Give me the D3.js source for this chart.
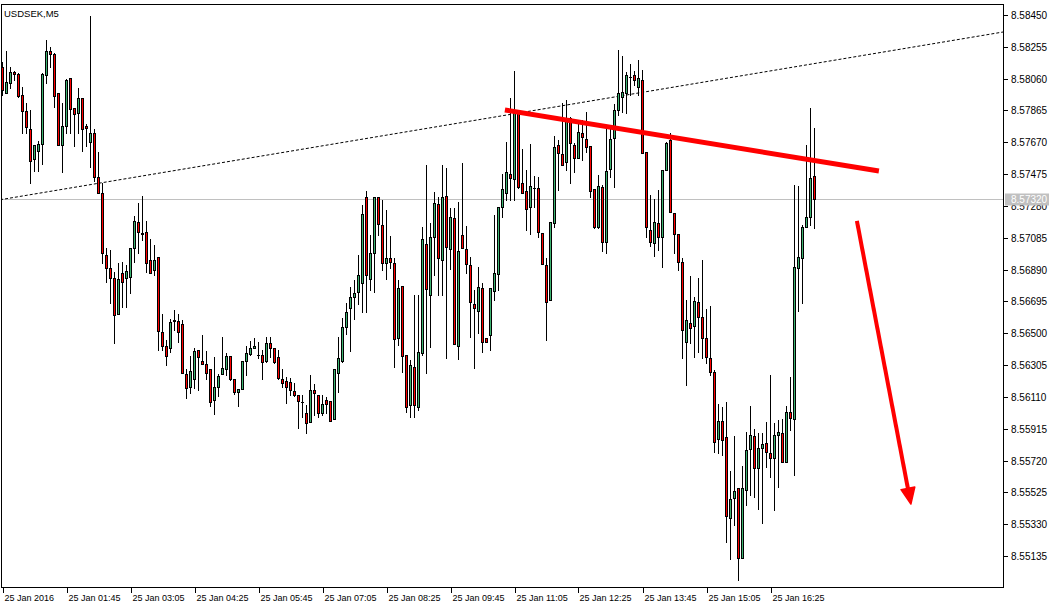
<!DOCTYPE html>
<html><head><meta charset="utf-8">
<script src="https://cdn.jsdelivr.net/npm/d3@7"></script>
<style>html,body{margin:0;padding:0;background:#fff;}svg{display:block;}</style>
</head><body>
<script>
const symbolTitle = "USDSEK,M5";
const openP = [8.58131,8.57972,8.58033,8.58101,8.58088,8.57960,8.57862,8.57751,8.57567,8.57616,
8.57659,8.58082,8.58229,8.58211,8.57972,8.57653,8.57770,8.58064,8.57880,8.57849,
8.57941,8.57770,8.57672,8.57727,8.57457,8.57359,8.56979,8.56899,8.56838,8.56617,
8.56869,8.56838,8.56844,8.57022,8.57181,8.57114,8.57120,8.56948,8.56887,8.56967,
8.56507,8.56421,8.56409,8.56580,8.56574,8.56556,8.56249,8.56170,8.56219,8.56396,
8.56329,8.56311,8.56280,8.56090,8.56170,8.56249,8.56280,8.56360,8.56219,8.56139,
8.56157,8.56329,8.56372,8.56409,8.56366,8.56366,8.56329,8.56439,8.56409,8.56354,
8.56219,8.56206,8.56200,8.56145,8.56121,8.56078,8.56010,8.55955,8.56151,8.56121,
8.56010,8.56090,8.56084,8.55974,8.56256,8.56329,8.56537,8.56654,8.56721,8.56752,
8.56807,8.57334,8.56832,8.56991,8.57334,8.57163,8.56930,8.56960,8.56930,8.56470,
8.56789,8.56366,8.56059,8.56292,8.56047,8.56378,8.57046,8.56734,8.57089,8.57292,
8.56948,8.57341,8.57016,8.57206,8.56421,8.57101,8.57016,8.56918,8.56678,8.56636,
8.56777,8.56470,8.56488,8.56758,8.56862,8.57273,8.57359,8.57475,8.57445,8.57855,
8.57420,8.57371,8.57273,8.57390,8.57390,8.57114,8.56918,8.56703,8.57175,8.57653,
8.57598,8.57549,8.57819,8.57653,8.57573,8.57727,8.57690,8.57647,8.57383,8.57150,
8.57396,8.57059,8.57506,8.57696,8.57868,8.57947,8.57972,8.58070,8.58082,8.58009,
8.58052,8.57610,8.57132,8.57052,8.57175,8.57089,8.57500,8.57684,8.57236,8.57108,
8.56936,8.56446,8.56562,8.56544,8.56691,8.56599,8.56470,8.56347,8.56262,8.55851,
8.55961,8.55863,8.55367,8.55489,8.55551,8.55121,8.55538,8.55790,8.55869,8.55673,
8.55796,8.55826,8.55765,8.55734,8.55875,8.55888,8.55710,8.56016,8.55974,8.56899,
8.56960,8.57150,8.57212,8.57463];
const highP = [8.58162,8.58229,8.58131,8.58107,8.58095,8.58009,8.57911,8.57868,8.57653,8.57678,
8.58095,8.58297,8.58254,8.58217,8.57972,8.57911,8.58058,8.58064,8.57880,8.58003,
8.57941,8.57782,8.58444,8.57751,8.57610,8.57420,8.57022,8.57009,8.56875,8.56930,
8.56936,8.56918,8.57022,8.57218,8.57298,8.57341,8.57187,8.57077,8.57040,8.56967,
8.56617,8.56458,8.56587,8.56642,8.56617,8.56580,8.56280,8.56360,8.56409,8.56396,
8.56488,8.56390,8.56280,8.56354,8.56249,8.56476,8.56378,8.56360,8.56219,8.56157,
8.56329,8.56421,8.56452,8.56470,8.56446,8.56396,8.56476,8.56476,8.56409,8.56396,
8.56280,8.56231,8.56225,8.56194,8.56121,8.56121,8.56059,8.56243,8.56188,8.56121,
8.56121,8.56108,8.56084,8.56280,8.56476,8.56593,8.56685,8.56783,8.56826,8.56979,
8.57285,8.57371,8.57101,8.57334,8.57334,8.57316,8.57255,8.57095,8.56960,8.56826,
8.56789,8.56366,8.56335,8.56734,8.56734,8.57150,8.57531,8.57175,8.57365,8.57334,
8.57531,8.57512,8.57267,8.57267,8.57304,8.57543,8.57157,8.56967,8.56764,8.56905,
8.56807,8.56470,8.56777,8.57224,8.57273,8.57475,8.57672,8.57941,8.58107,8.57868,
8.57629,8.57500,8.57659,8.57463,8.57457,8.57114,8.56960,8.57181,8.57708,8.57684,
8.57911,8.57929,8.57825,8.57665,8.57794,8.57806,8.57855,8.57647,8.57383,8.57469,
8.57408,8.57757,8.57757,8.57904,8.58236,8.58199,8.58101,8.58150,8.58107,8.58174,
8.58113,8.57610,8.57347,8.57322,8.57377,8.57500,8.57672,8.57727,8.57236,8.57108,
8.56960,8.56703,8.56850,8.56721,8.56838,8.56948,8.56648,8.56666,8.56274,8.56065,
8.56047,8.56078,8.55655,8.55869,8.55551,8.55685,8.55894,8.56053,8.55912,8.55888,
8.55888,8.55955,8.56243,8.55949,8.55967,8.55974,8.56053,8.56231,8.57408,8.57402,
8.57163,8.57653,8.57880,8.57757];
const lowP = [8.57960,8.57972,8.58003,8.58052,8.57947,8.57727,8.57727,8.57420,8.57494,8.57494,
8.57537,8.58033,8.58131,8.57886,8.57653,8.57488,8.57727,8.57727,8.57647,8.57727,
8.57616,8.57647,8.57518,8.57432,8.57359,8.56930,8.56813,8.56685,8.56439,8.56617,
8.56660,8.56660,8.56746,8.56936,8.56991,8.57071,8.56875,8.56869,8.56856,8.56396,
8.56396,8.56305,8.56384,8.56519,8.56446,8.56256,8.56102,8.56133,8.56164,8.56151,
8.56311,8.56219,8.56053,8.56004,8.56115,8.56249,8.56243,8.56213,8.56127,8.56053,
8.56157,8.56243,8.56366,8.56409,8.56347,8.56219,8.56323,8.56354,8.56317,8.56219,
8.56170,8.56072,8.56121,8.56115,8.55918,8.55986,8.55888,8.55955,8.55998,8.55986,
8.55998,8.56010,8.55961,8.55974,8.56139,8.56323,8.56495,8.56390,8.56587,8.56678,
8.56629,8.56629,8.56764,8.56752,8.57101,8.56887,8.56832,8.56899,8.56292,8.56427,
8.56262,8.56016,8.55986,8.55986,8.56029,8.56366,8.56256,8.56415,8.56856,8.56734,
8.56734,8.56347,8.56893,8.56433,8.56341,8.57022,8.56869,8.56476,8.56286,8.56501,
8.56384,8.56446,8.56396,8.56703,8.56764,8.57212,8.57316,8.57316,8.57316,8.57390,
8.57359,8.57132,8.57108,8.57273,8.57089,8.56924,8.56458,8.56703,8.57150,8.57377,
8.57531,8.57500,8.57420,8.57488,8.57573,8.57561,8.57610,8.57334,8.57144,8.57144,
8.57003,8.56991,8.57457,8.57396,8.57837,8.57855,8.57849,8.57960,8.58021,8.57960,
8.57604,8.57089,8.57034,8.56973,8.57009,8.56905,8.57500,8.57242,8.56991,8.56887,
8.56347,8.56182,8.56439,8.56354,8.56384,8.56347,8.56317,8.56243,8.55771,8.55765,
8.55753,8.55220,8.55115,8.55324,8.54987,8.55121,8.55446,8.55508,8.55495,8.55422,
8.55336,8.55679,8.55618,8.55416,8.55557,8.55710,8.55710,8.55906,8.55630,8.56636,
8.56685,8.57150,8.57163,8.57144];
const closeP = [8.57990,8.58039,8.58101,8.58088,8.57954,8.57862,8.57763,8.57555,8.57653,8.57659,
8.58088,8.58229,8.58211,8.57954,8.57653,8.57770,8.58052,8.57874,8.57843,8.57941,
8.57751,8.57757,8.57727,8.57457,8.57359,8.56991,8.56899,8.56838,8.56611,8.56832,
8.56813,8.56881,8.57022,8.57187,8.57120,8.57108,8.56930,8.56869,8.56948,8.56513,
8.56421,8.56360,8.56568,8.56574,8.56507,8.56256,8.56164,8.56268,8.56390,8.56354,
8.56311,8.56256,8.56078,8.56170,8.56237,8.56286,8.56360,8.56219,8.56139,8.56157,
8.56329,8.56378,8.56409,8.56421,8.56366,8.56323,8.56439,8.56409,8.56323,8.56225,
8.56194,8.56170,8.56151,8.56121,8.56084,8.56078,8.55949,8.56151,8.56133,8.56010,
8.56065,8.56065,8.55961,8.56280,8.56347,8.56537,8.56629,8.56721,8.56746,8.56856,
8.57230,8.56856,8.56991,8.57334,8.57169,8.56930,8.56960,8.56936,8.56464,8.56777,
8.56360,8.56047,8.56305,8.56059,8.56384,8.57077,8.56770,8.57089,8.57298,8.56960,
8.57334,8.57028,8.57212,8.56433,8.57003,8.57022,8.56924,8.56691,8.56654,8.56783,
8.56446,8.56446,8.56777,8.56869,8.57273,8.57383,8.57488,8.57451,8.57855,8.57396,
8.57359,8.57261,8.57402,8.57390,8.57120,8.56924,8.56691,8.57181,8.57641,8.57604,
8.57531,8.57800,8.57665,8.57573,8.57733,8.57702,8.57641,8.57371,8.57150,8.57402,
8.57059,8.57494,8.57690,8.57868,8.57972,8.57978,8.58082,8.58070,8.58052,8.58064,
8.57604,8.57150,8.57059,8.57181,8.57089,8.57500,8.57665,8.57242,8.57108,8.56936,
8.56519,8.56580,8.56531,8.56697,8.56599,8.56470,8.56354,8.56262,8.55833,8.55961,
8.55845,8.55379,8.55483,8.55532,8.55121,8.55551,8.55784,8.55875,8.55673,8.55796,
8.55820,8.55771,8.55734,8.55875,8.55894,8.55710,8.56016,8.55980,8.56905,8.56967,
8.57150,8.57212,8.57451,8.57320];
const timeTickIndex = [0,16,32,48,64,80,96,112,128,144,160,176,192];
const timeTickLabels = ["25 Jan 2016","25 Jan 01:45","25 Jan 03:05","25 Jan 04:25","25 Jan 05:45","25 Jan 07:05","25 Jan 08:25","25 Jan 09:45","25 Jan 11:05","25 Jan 12:25","25 Jan 13:45","25 Jan 15:05","25 Jan 16:25"];
const priceTicks = [8.58450,8.58255,8.58060,8.57865,8.57670,8.57475,8.57280,8.57085,8.56890,8.56695,8.56500,8.56305,8.56110,8.55915,8.55720,8.55525,8.55330,8.55135];
const currentPrice = 8.57320;
// drawn objects, in (bar index, price)
const dottedTrend = [[-0.6, 8.57318], [250.2, 8.58346]];
const redTrend = [[125.6, 8.57868], [219.1, 8.57494]];
const redArrow = [[213.6, 8.57188], [227.1, 8.54453 + 0.01]];

const W = 1060, H = 608;
const plot = {left: 1, right: 1003, top: 4, bottom: 587};
const svg = d3.select("body").append("svg").attr("width", W).attr("height", H)
  .style("font-family", "'Liberation Sans', Arial, sans-serif");
svg.append("rect").attr("width", W).attr("height", H).attr("fill", "#fff");

const x = d3.scaleLinear().domain([0, 250]).range([2.5, 1002.5]);
const y = d3.scaleLinear().domain([8.55135, 8.58450]).range([556, 15]);

const clip = svg.append("clipPath").attr("id", "pc").append("rect")
  .attr("x", plot.left).attr("y", plot.top).attr("width", plot.right - plot.left).attr("height", plot.bottom - plot.top);
const g = svg.append("g").attr("clip-path", "url(#pc)");

// current price line
g.append("line").attr("x1", plot.left).attr("x2", plot.right)
  .attr("y1", Math.round(y(currentPrice)) + 0.5).attr("y2", Math.round(y(currentPrice)) + 0.5)
  .attr("stroke", "#c0c0c0").attr("stroke-width", 1);

// dotted trend line
const line = d3.line().x(d => x(d[0])).y(d => y(d[1]));
g.append("path").attr("d", line(dottedTrend)).attr("fill", "none")
  .attr("stroke", "#000").attr("stroke-width", 1).attr("stroke-dasharray", "3,2");

// candles
const data = openP.map((o, i) => ({i, o, h: highP[i], l: lowP[i], c: closeP[i]}));
const cg = g.append("g");
data.forEach(d => {
  const cx = x(d.i);
  const yh = Math.round(y(d.h)), yl = Math.round(y(d.l));
  cg.append("rect").attr("x", cx - 0.5).attr("width", 1).attr("y", yh).attr("height", Math.max(1, yl - yh + 1)).attr("fill", "#000");
  const yt = Math.round(y(Math.max(d.o, d.c))), yb = Math.round(y(Math.min(d.o, d.c)));
  cg.append("rect").attr("x", cx - 1.5).attr("width", 3).attr("y", yt).attr("height", Math.max(1, yb - yt + 1)).attr("fill", "#000");
  if (yb - yt > 1) {
    cg.append("rect").attr("x", cx - 0.5).attr("width", 1).attr("y", yt + 1).attr("height", yb - yt - 1)
      .attr("fill", d.c >= d.o ? "#3cb371" : "#ff0000");
  }
});

// red trend line
g.append("path").attr("d", line(redTrend)).attr("fill", "none")
  .attr("stroke", "#ff0000").attr("stroke-width", 5);

// red arrow
const ax1 = x(redArrow[0][0]), ay1 = y(redArrow[0][1]);
const ax2 = x(redArrow[1][0]), ay2 = y(redArrow[1][1]);
const ang = Math.atan2(ay2 - ay1, ax2 - ax1);
const headLen = 16, headW = 7;
const bx = ax2 - headLen * Math.cos(ang), by = ay2 - headLen * Math.sin(ang);
g.append("line").attr("x1", ax1).attr("y1", ay1).attr("x2", bx).attr("y2", by)
  .attr("stroke", "#ff0000").attr("stroke-width", 4);
const px = -Math.sin(ang), py = Math.cos(ang);
g.append("path").attr("d", `M${ax2},${ay2}L${bx + px * headW},${by + py * headW}L${bx - px * headW},${by - py * headW}Z`)
  .attr("fill", "#ff0000").attr("stroke", "#ff0000").attr("stroke-width", 1.5).attr("stroke-linejoin", "round");

// frame
svg.append("rect").attr("x", plot.left + 0.5).attr("y", plot.top + 0.5)
  .attr("width", plot.right - plot.left).attr("height", plot.bottom - plot.top)
  .attr("fill", "none").attr("stroke", "#000");

// title
svg.append("text").attr("x", 4).attr("y", 17).attr("font-size", 9.5).attr("fill", "#000").text(symbolTitle);

// right axis
const ya = svg.append("g");
priceTicks.forEach(p => {
  const yy = Math.round(y(p)) + 0.5;
  ya.append("line").attr("x1", plot.right + 0.5).attr("x2", plot.right + 5).attr("y1", yy).attr("y2", yy).attr("stroke", "#000");
  ya.append("text").attr("x", plot.right + 8).attr("y", yy + 3.5).attr("font-size", 10).attr("fill", "#000").text(p.toFixed(5));
});
// current price label
const cpy = Math.round(y(currentPrice)) + 0.5;
ya.append("rect").attr("x", plot.right + 2).attr("y", cpy - 6).attr("width", 44).attr("height", 12).attr("fill", "#c0c0c0");
ya.append("text").attr("x", plot.right + 8).attr("y", cpy + 3.5).attr("font-size", 10).attr("fill", "#fff").text(currentPrice.toFixed(5));

// bottom axis
const xa = svg.append("g");
timeTickIndex.forEach((ti, k) => {
  const xx = Math.round(x(ti)) + 0.5;
  xa.append("line").attr("x1", xx).attr("x2", xx).attr("y1", plot.bottom).attr("y2", plot.bottom + 6).attr("stroke", "#000");
  xa.append("text").attr("x", xx + 1).attr("y", 601).attr("font-size", 9).attr("fill", "#000").text(timeTickLabels[k]);
});
</script>
</body></html>
